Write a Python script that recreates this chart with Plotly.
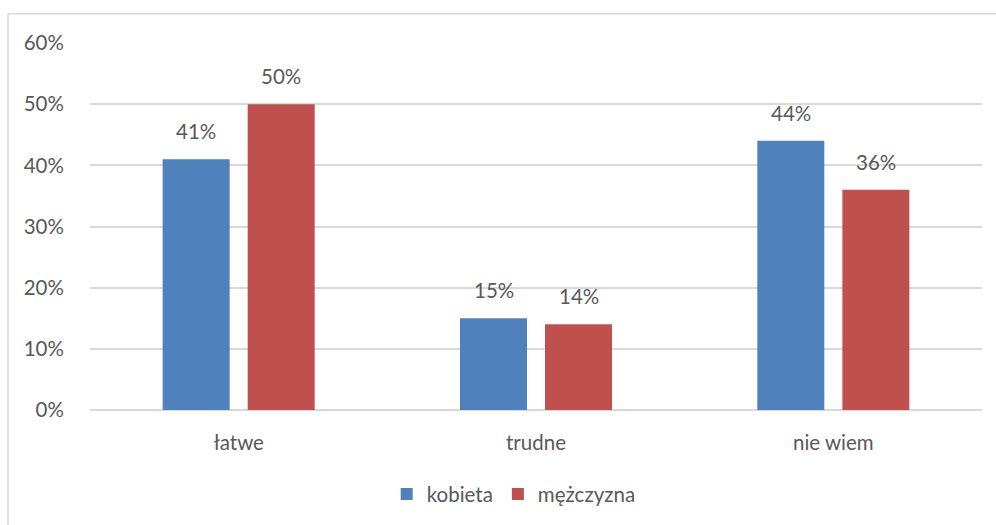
import plotly.graph_objects as go

categories = ["łatwe", "trudne", "nie wiem"]
kobieta = [41, 15, 44]
mezczyzna = [50, 14, 36]
series_names = ["kobieta", "mężczyzna"]
tick_vals = [0, 10, 20, 30, 40, 50, 60]
tick_text = ["0%", "10%", "20%", "30%", "40%", "50%", "60%"]

BLUE = "#4F81BD"
RED = "#C0504D"
TEXT = "#595959"
GRID = "#D9D9D9"
FONT = "Lato"
FS = 20.5

fig = go.Figure()
for name, vals, color in [(series_names[0], kobieta, BLUE), (series_names[1], mezczyzna, RED)]:
    fig.add_trace(go.Bar(
        name=name, x=categories, y=vals,
        marker=dict(color=color, line=dict(width=0)),
    ))

# value labels above each bar
for vals, shift in [(kobieta, -42.5), (mezczyzna, 42.5)]:
    for cat, v in zip(categories, vals):
        fig.add_annotation(
            x=cat, y=v, text=f"{v}%", showarrow=False,
            xshift=shift, yshift=14, yanchor="bottom",
            font=dict(family=FONT, size=FS, color=TEXT),
        )

# outer chart frame
fig.add_shape(type="rect", xref="paper", yref="paper",
              x0=-0.0919, y0=-0.6, x1=1.2, y1=1.0797,
              line=dict(color=GRID, width=1.5), layer="below")

fig.update_layout(
    width=996, height=525,
    margin=dict(l=90, r=14, t=43, b=114),
    paper_bgcolor="white", plot_bgcolor="white",
    barmode="group", bargap=0.428, bargroupgap=0.212,
    font=dict(family=FONT, size=FS, color=TEXT),
    showlegend=True,
    legend=dict(orientation="h", x=0.475, xanchor="center", y=-0.226, yanchor="middle",
                font=dict(family=FONT, size=FS, color=TEXT),
                itemwidth=30, tracegroupgap=0),
    xaxis=dict(showgrid=False, showline=False, ticks="outside", ticklen=14,
               tickcolor="rgba(0,0,0,0)", tickfont=dict(size=FS, color=TEXT)),
    yaxis=dict(range=[0, 60], tickvals=tick_vals, ticktext=tick_text,
               showgrid=True, gridcolor=GRID, gridwidth=1.5,
               zeroline=True, zerolinecolor=GRID, zerolinewidth=1.5,
               showline=False, ticks="outside", ticklen=21,
               tickcolor="rgba(0,0,0,0)", tickfont=dict(size=FS, color=TEXT)),
)

fig.write_html("out.html")
